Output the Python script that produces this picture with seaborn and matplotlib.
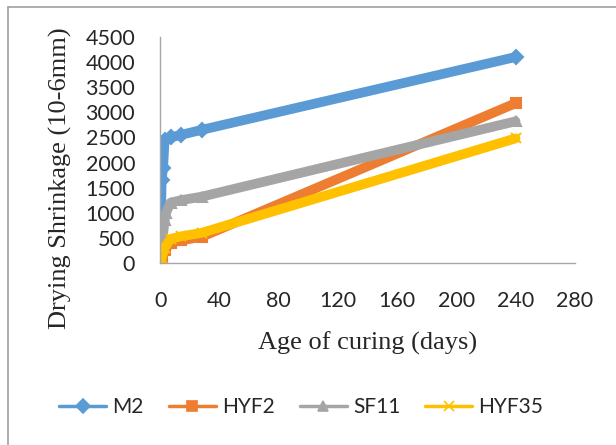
import pandas as pd
import matplotlib.pyplot as plt
import seaborn as sns
from matplotlib.lines import Line2D

# Readings taken off the chart (age in days, shrinkage in 10-6 mm)
m2_days = [0, 1, 2, 3, 7, 14, 28, 240]
m2_vals = [0, 1650, 1900, 2450, 2500, 2550, 2650, 4100]

hyf2_days = [0, 1, 3, 7, 14, 28, 240]
hyf2_vals = [0, 100, 250, 400, 450, 520, 3180]

sf11_days = [0, 1, 3, 4, 7, 14, 28, 240]
sf11_vals = [0, 300, 850, 1000, 1200, 1250, 1320, 2820]

hyf35_days = [0, 1, 3, 7, 14, 28, 240]
hyf35_vals = [0, 100, 300, 480, 530, 600, 2480]

series = ['M2', 'HYF2', 'SF11', 'HYF35']
colors = ['#5B9BD5', '#ED7D31', '#A5A5A5', '#FFC000']
markers = ['D', 's', '^', 'x']

x_ticks = [0, 40, 80, 120, 160, 200, 240, 280]
y_ticks = [0, 500, 1000, 1500, 2000, 2500, 3000, 3500, 4000, 4500]

df = pd.concat([
    pd.DataFrame({'Age': m2_days, 'Shrinkage': m2_vals, 'Mix': 'M2'}),
    pd.DataFrame({'Age': hyf2_days, 'Shrinkage': hyf2_vals, 'Mix': 'HYF2'}),
    pd.DataFrame({'Age': sf11_days, 'Shrinkage': sf11_vals, 'Mix': 'SF11'}),
    pd.DataFrame({'Age': hyf35_days, 'Shrinkage': hyf35_vals, 'Mix': 'HYF35'}),
])

sns.set_style('white')
plt.rcParams['font.family'] = ['Lato', 'DejaVu Sans']

fig = plt.figure(figsize=(6.16, 4.45), dpi=100)
ax = fig.add_axes([0.26, 0.409, 0.673, 0.508])

# thick bands, as the overlapping markers look in the original
for name, col, mk in zip(series, colors, markers):
    sub = df[df['Mix'] == name]
    sns.lineplot(data=sub, x='Age', y='Shrinkage', ax=ax, color=col,
                 linewidth=7, marker=mk, markersize=7, markeredgecolor=col,
                 markeredgewidth=1.5, sort=False, estimator=None, legend=False)

ax.set_xlim(0, 280)
ax.set_ylim(0, 4500)
ax.set_xticks(x_ticks)
ax.set_yticks(y_ticks)
ax.tick_params(axis='x', labelsize=15.5, pad=20, length=0)
ax.tick_params(axis='y', labelsize=15.5, pad=18, length=0)

for s in ['top', 'right']:
    ax.spines[s].set_visible(False)
for s in ['left', 'bottom']:
    ax.spines[s].set_color('#A6A6A6')
    ax.spines[s].set_linewidth(1)

ax.set_xlabel('Age of curing (days)', fontsize=19, family='Liberation Serif', labelpad=15)
ax.set_ylabel('')
# y title sits a little lower than the axis middle in the original
fig.text(60 / 616, 1 - 178 / 445, 'Drying Shrinkage (10-6mm)', rotation=90,
         ha='center', va='center', fontsize=19, family='Liberation Serif')

handles = [Line2D([0], [0], color=c, marker=m, linewidth=2.5, markersize=7,
                  markeredgecolor=c, markeredgewidth=1.2)
           for c, m in zip(colors, markers)]
fig.legend(handles, series, loc='center', bbox_to_anchor=(0.489, 1 - 407 / 445),
           ncol=4, frameon=False, fontsize=15, handlelength=2.25,
           handletextpad=0.3, columnspacing=1.2)

# light grey frame around the chart area
fig.add_artist(Line2D([8 / 616, 8 / 616], [0, 1 - 7 / 445], color='#A0A0A0', linewidth=1.2))
fig.add_artist(Line2D([8 / 616, 1], [1 - 7 / 445, 1 - 7 / 445], color='#A0A0A0', linewidth=1.2))

plt.savefig('out.png', dpi=100)
